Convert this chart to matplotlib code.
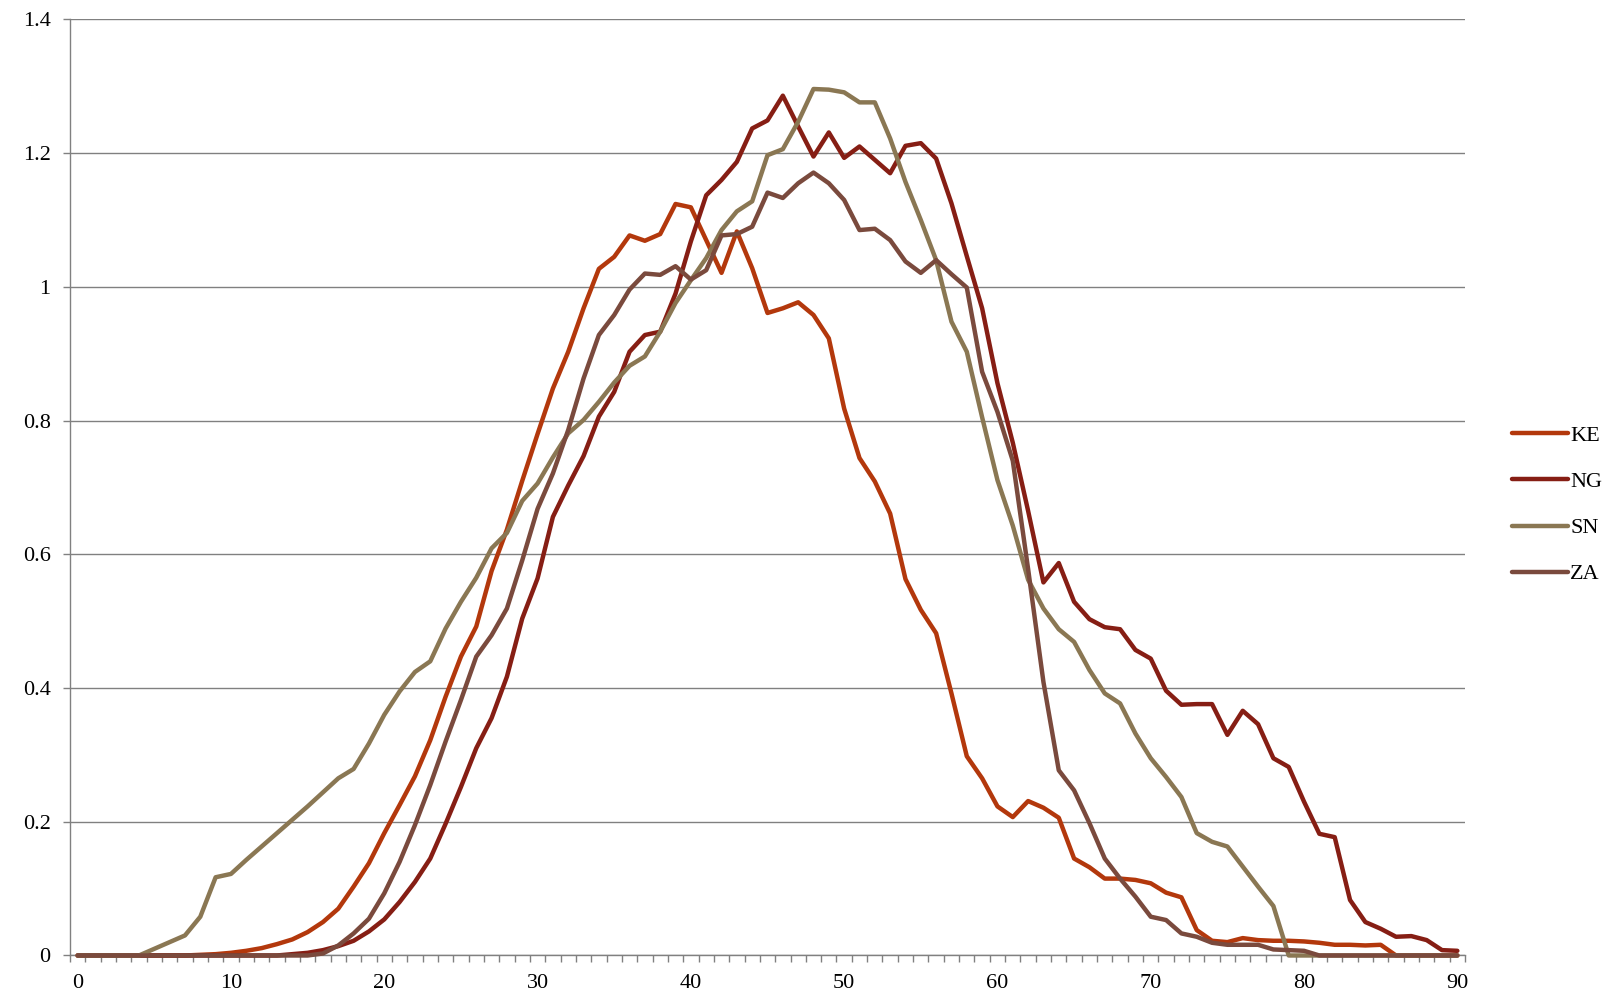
import numpy as np
import matplotlib
matplotlib.use('Agg')
import matplotlib.pyplot as plt
from matplotlib.ticker import FixedLocator

# x categories 0..90
x = list(range(91))

ke = [0, 0, 0, 0, 0, 0, 0, 0, 0.001, 0.002,
      0.004, 0.007, 0.011, 0.017, 0.024, 0.035, 0.05, 0.07, 0.103, 0.138,
      0.183, 0.225, 0.268, 0.322, 0.387, 0.447, 0.492, 0.575, 0.637, 0.71,
      0.78, 0.848, 0.903, 0.968, 1.027, 1.045, 1.077, 1.069, 1.079, 1.124,
      1.119, 1.07, 1.021, 1.083, 1.028, 0.961, 0.968, 0.977, 0.958, 0.923,
      0.818, 0.744, 0.709, 0.661, 0.563, 0.517, 0.482, 0.392, 0.298, 0.265,
      0.223, 0.207, 0.231, 0.221, 0.206, 0.145, 0.132, 0.115, 0.115, 0.113,
      0.108, 0.094, 0.087, 0.038, 0.022, 0.020, 0.026, 0.023, 0.022, 0.022,
      0.021, 0.019, 0.016, 0.016, 0.015, 0.016, 0, 0, 0, 0,
      0]

ng = [0, 0, 0, 0, 0, 0, 0, 0, 0, 0,
      0, 0, 0, 0, 0.002, 0.004, 0.008, 0.014, 0.022, 0.036,
      0.054, 0.08, 0.11, 0.145, 0.197, 0.252, 0.31, 0.355, 0.417, 0.504,
      0.564, 0.656, 0.703, 0.747, 0.806, 0.843, 0.903, 0.928, 0.933, 0.99,
      1.068, 1.137, 1.16, 1.187, 1.237, 1.249, 1.286, 1.24, 1.195, 1.231,
      1.193, 1.21, 1.19, 1.17, 1.211, 1.215, 1.192, 1.125, 1.046, 0.968,
      0.856, 0.767, 0.665, 0.558, 0.587, 0.529, 0.503, 0.491, 0.488, 0.457,
      0.444, 0.396, 0.375, 0.376, 0.376, 0.33, 0.366, 0.346, 0.295, 0.282,
      0.23, 0.182, 0.177, 0.083, 0.05, 0.04, 0.028, 0.029, 0.023, 0.008,
      0.007]

sn = [0, 0, 0, 0, 0, 0.01, 0.02, 0.03, 0.058, 0.117,
      0.122, 0.143, 0.163, 0.183, 0.203, 0.223, 0.244, 0.265, 0.279, 0.317,
      0.36, 0.395, 0.424, 0.44, 0.489, 0.529, 0.565, 0.609, 0.632, 0.68,
      0.706, 0.745, 0.781, 0.801, 0.828, 0.857, 0.882, 0.896, 0.933, 0.976,
      1.01, 1.043, 1.085, 1.113, 1.128, 1.197, 1.206, 1.247, 1.296, 1.295,
      1.291, 1.276, 1.276, 1.222, 1.157, 1.1, 1.04, 0.948, 0.903, 0.805,
      0.711, 0.643, 0.562, 0.519, 0.488, 0.469, 0.427, 0.392, 0.377, 0.332,
      0.295, 0.267, 0.237, 0.183, 0.17, 0.163, 0.133, 0.103, 0.074, 0,
      0, 0, 0, 0, 0, 0, 0, 0, 0, 0,
      0]

za = [0, 0, 0, 0, 0, 0, 0, 0, 0, 0,
      0, 0, 0, 0, 0, 0, 0.003, 0.015, 0.033, 0.055,
      0.093, 0.14, 0.195, 0.255, 0.32, 0.382, 0.447, 0.479, 0.519, 0.591,
      0.668, 0.721, 0.786, 0.863, 0.928, 0.958, 0.996, 1.02, 1.018, 1.031,
      1.011, 1.025, 1.077, 1.079, 1.09, 1.141, 1.133, 1.155, 1.171, 1.155,
      1.13, 1.085, 1.087, 1.07, 1.038, 1.021, 1.04, 1.019, 0.999, 0.873,
      0.813, 0.74, 0.578, 0.409, 0.277, 0.247, 0.198, 0.145, 0.115, 0.088,
      0.058, 0.053, 0.033, 0.028, 0.019, 0.016, 0.016, 0.016, 0.009, 0.008,
      0.007, 0, 0, 0, 0, 0, 0, 0, 0, 0,
      0]

series = [('KE', ke, '#B3380C'), ('NG', ng, '#861E14'),
          ('SN', sn, '#8A7753'), ('ZA', za, '#7A4A3D')]

y_ticks = [0, 0.2, 0.4, 0.6, 0.8, 1.0, 1.2, 1.4]
y_labels = ['0', '0.2', '0.4', '0.6', '0.8', '1', '1.2', '1.4']
x_ticks = list(range(0, 91, 10))

plt.rcParams['font.family'] = ['Liberation Serif', 'DejaVu Serif']
grey = '#808080'

fig = plt.figure(figsize=(16.17, 9.98), dpi=100)
ax = fig.add_axes([0.0433, 0.0426, 0.906 - 0.0433, 0.9805 - 0.0426])

for i, (name, vals, col) in enumerate(series):
    ax.plot(x, vals, color=col, lw=3.2, label=name, clip_on=False,
            solid_joinstyle='round', solid_capstyle='round', zorder=3 + i)

ax.set_xlim(-0.5, 90.5)
ax.set_ylim(0, 1.4)
ax.set_yticks(y_ticks)
ax.set_yticklabels(y_labels)
ax.set_xticks(x_ticks)
ax.xaxis.set_minor_locator(FixedLocator(np.arange(-0.5, 91, 1)))
ax.tick_params(axis='x', which='major', length=0, pad=13, labelsize=16)
ax.tick_params(axis='x', which='minor', length=5, width=1, color=grey)
ax.tick_params(axis='y', length=5, width=1, color=grey, pad=9, labelsize=16)

ax.grid(axis='y', color=grey, lw=1)
ax.set_axisbelow(True)
for s in ['top', 'right']:
    ax.spines[s].set_visible(False)
for s in ['left', 'bottom']:
    ax.spines[s].set_color(grey)
    ax.spines[s].set_linewidth(1)

leg = ax.legend(loc='center left', bbox_to_anchor=(0.923, 0.494),
                bbox_transform=fig.transFigure, frameon=False, fontsize=16,
                handlelength=2.5, handletextpad=0.1, labelspacing=1.15)

fig.savefig('out.png', dpi=100)
